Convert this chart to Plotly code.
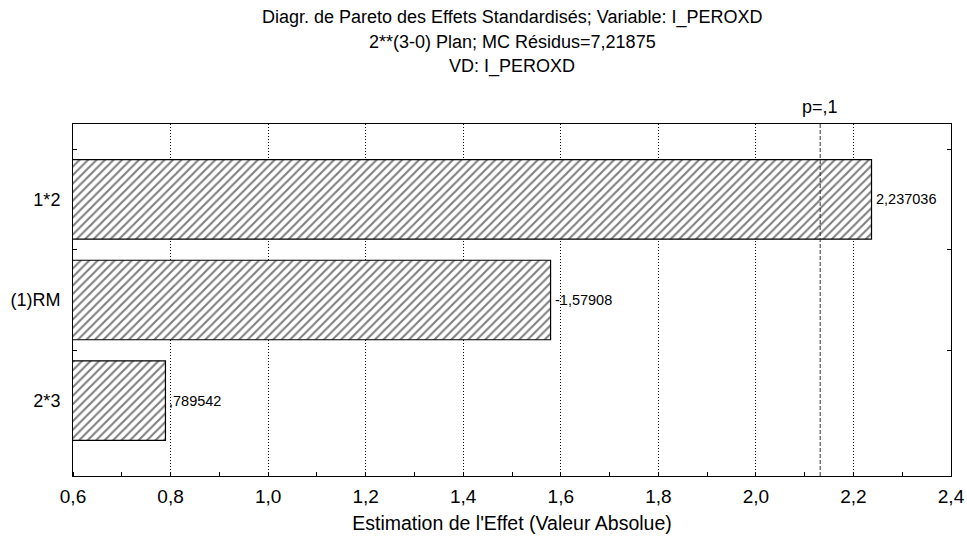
import plotly.graph_objects as go

# ---- data ----
effects = ["1*2", "(1)RM", "2*3"]
effect_values = [2.237036, -1.57908, 0.789542]
p_critical = 2.1318  # t critical, p=,1
p_label = "p=,1"
title_lines = [
    "Diagr. de Pareto des Effets Standardisés; Variable: I_PEROXD",
    "2**(3-0) Plan; MC Résidus=7,21875",
    "VD: I_PEROXD",
]
x_title = "Estimation de l'Effet (Valeur Absolue)"
x_ticks = [0.6, 0.8, 1.0, 1.2, 1.4, 1.6, 1.8, 2.0, 2.2, 2.4]


def stat_fmt(v):
    s = "{:.7g}".format(v)
    neg = s.startswith("-")
    s = s.lstrip("-")
    if s.startswith("0."):
        s = s[1:]
    s = s.replace(".", ",")
    return ("-" if neg else "") + s


abs_vals = [abs(v) for v in effect_values]
FONT = "Liberation Sans, Arial, sans-serif"

fig = go.Figure()
fig.add_trace(go.Bar(
    x=abs_vals, y=effects, orientation="h", width=0.79,
    marker=dict(color="white",
                line=dict(color="black", width=1.2),
                pattern=dict(shape="/", fgcolor="black", bgcolor="white",
                             size=6, solidity=0.35)),
    hoverinfo="skip",
))

annotations = []
for name, v, a in zip(effects, effect_values, abs_vals):
    annotations.append(dict(x=a, y=name, xref="x", yref="y", text=stat_fmt(v),
                            showarrow=False, xanchor="left", xshift=2,
                            font=dict(size=14.5, color="black", family=FONT)))

shifts = [107, 82, 58]
for t, s in zip(title_lines, shifts):
    annotations.append(dict(x=0.5, y=1, xref="paper", yref="paper", text=t,
                            showarrow=False, xanchor="center", yanchor="middle",
                            yshift=s, font=dict(size=18, color="black", family=FONT)))

annotations.append(dict(x=p_critical, y=1, xref="x", yref="paper", text=p_label,
                        showarrow=False, xanchor="center", yanchor="middle", yshift=17,
                        font=dict(size=18, color="black", family=FONT)))

fig.add_shape(type="line", x0=p_critical, x1=p_critical, y0=0, y1=1,
              xref="x", yref="paper", line=dict(color="#333333", width=1, dash="4px,2px"))

fig.update_layout(
    width=967, height=536,
    margin=dict(l=73, r=16, t=124, b=60, autoexpand=False),
    paper_bgcolor="white", plot_bgcolor="white",
    separators=", ",
    showlegend=False,
    font=dict(family=FONT, color="black", size=18),
    annotations=annotations,
    xaxis=dict(range=[0.6, 2.4], tickvals=x_ticks, tickformat=".1f",
               automargin=False, ticklabelstandoff=3,
               showgrid=True, gridcolor="black", gridwidth=1, griddash="1px,2px",
               showline=True, linecolor="black", linewidth=1, mirror=True,
               ticks="", zeroline=False,
               minor=dict(dtick=0.1, ticks="inside", ticklen=4, tickcolor="black",
                          showgrid=False),
               tickfont=dict(size=19, family=FONT, color="black"),
               title=dict(text=x_title, font=dict(size=19.5, family=FONT, color="black"),
                          standoff=10)),
    yaxis=dict(type="category", categoryorder="array", categoryarray=effects,
               range=[2.75, -0.75], showgrid=False, automargin=False,
               ticklabelstandoff=8,
               showline=True, linecolor="black", linewidth=1, mirror="ticks",
               ticks="inside", ticklen=4, tickcolor="black", tickson="boundaries",
               tickfont=dict(size=18, family=FONT, color="black"),
               zeroline=False),
)

fig.write_html("out.html", config={"displayModeBar": False},
               post_script="document.body.style.margin='0';")
